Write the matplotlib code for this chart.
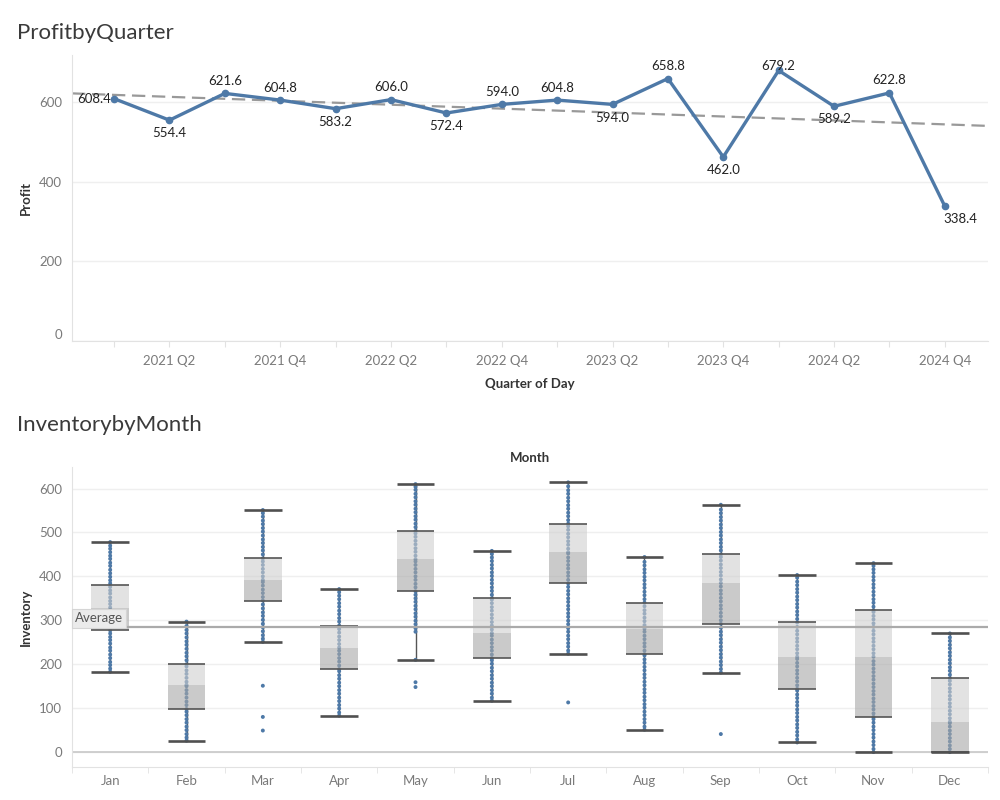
import matplotlib
matplotlib.use("Agg")
import matplotlib.pyplot as plt
import numpy as np

plt.rcParams['font.family'] = ['Lato', 'DejaVu Sans']

# ---------------- data ----------------
quarters = ["2021 Q1", "2021 Q2", "2021 Q3", "2021 Q4",
            "2022 Q1", "2022 Q2", "2022 Q3", "2022 Q4",
            "2023 Q1", "2023 Q2", "2023 Q3", "2023 Q4",
            "2024 Q1", "2024 Q2", "2024 Q3", "2024 Q4"]
profit = [608.4, 554.4, 621.6, 604.8, 583.2, 606.0, 572.4, 594.0,
          604.8, 594.0, 658.8, 462.0, 679.2, 589.2, 622.8, 338.4]

months = ["Jan", "Feb", "Mar", "Apr", "May", "Jun",
          "Jul", "Aug", "Sep", "Oct", "Nov", "Dec"]
whisk_lo = [183, 26, 251, 83, 210, 117, 224, 51, 181, 22, 0, 0]
q1 = [277, 98, 345, 189, 366, 214, 384, 223, 292, 144, 80, 0]
median = [328, 153, 392, 238, 439, 271, 455, 281, 385, 217, 217, 69]
q3 = [380, 200, 441, 288, 503, 350, 520, 340, 450, 295, 323, 168]
whisk_hi = [478, 297, 551, 371, 610, 458, 614, 444, 563, 403, 430, 270]
avg_inventory = 285

inv_jan = [183, 190, 198, 205, 214, 222, 231, 238, 247, 255, 262, 270, 277, 283,
           291, 298, 306, 313, 322, 329, 337, 344, 352, 361, 368, 376, 384, 391,
           399, 407, 415, 424, 431, 440, 447, 455, 463, 470, 478]
inv_feb = [26, 33, 41, 50, 58, 67, 75, 84, 92, 98, 107, 115, 124, 133, 141, 150,
           153, 160, 169, 178, 186, 195, 200, 209, 218, 226, 235, 244, 252, 261,
           270, 278, 287, 297]
inv_mar = [49, 80, 151, 251, 258, 266, 275, 284, 292, 301, 310, 318, 327, 336,
           345, 353, 362, 370, 379, 387, 392, 400, 409, 417, 426, 434, 441, 450,
           459, 467, 476, 484, 493, 502, 510, 519, 527, 536, 544, 551]
inv_apr = [83, 90, 99, 107, 116, 124, 133, 141, 150, 158, 167, 175, 184, 189,
           197, 206, 214, 223, 231, 238, 246, 255, 263, 272, 280, 288, 297, 305,
           314, 322, 331, 339, 348, 356, 364, 371]
inv_may = [148, 159, 210, 274, 282, 291, 299, 308, 316, 325, 333, 342, 350, 358,
           366, 375, 383, 392, 400, 409, 417, 426, 434, 439, 447, 456, 464, 473,
           481, 490, 498, 503, 512, 520, 529, 537, 546, 554, 563, 571, 580, 588,
           597, 604, 610]
inv_jun = [117, 124, 133, 141, 150, 158, 167, 175, 184, 192, 201, 209, 214, 222,
           231, 239, 248, 256, 265, 271, 279, 288, 296, 305, 313, 322, 330, 339,
           347, 350, 358, 367, 375, 384, 392, 401, 409, 418, 426, 435, 443, 451,
           458]
inv_jul = [113, 224, 231, 240, 248, 257, 265, 274, 282, 291, 299, 308, 316, 325,
           333, 342, 350, 359, 367, 376, 384, 392, 401, 409, 418, 426, 435, 443,
           452, 455, 463, 472, 480, 489, 497, 506, 514, 520, 528, 537, 545, 554,
           562, 571, 579, 588, 596, 605, 614]
inv_aug = [51, 58, 67, 75, 84, 92, 101, 109, 118, 126, 135, 143, 152, 160, 169,
           177, 186, 194, 203, 211, 220, 223, 231, 240, 248, 257, 265, 274, 281,
           289, 298, 306, 315, 323, 332, 340, 348, 357, 365, 374, 382, 391, 399,
           408, 416, 425, 433, 444]
inv_sep = [41, 181, 189, 198, 206, 215, 223, 232, 240, 249, 257, 266, 274, 283,
           292, 300, 309, 317, 326, 334, 343, 351, 360, 368, 377, 385, 393, 402,
           410, 419, 427, 436, 444, 450, 459, 467, 476, 484, 493, 501, 510, 518,
           527, 535, 544, 552, 563]
inv_oct = [22, 29, 38, 46, 55, 63, 72, 80, 89, 97, 106, 114, 123, 131, 140, 144,
           152, 161, 169, 178, 186, 195, 203, 212, 217, 225, 234, 242, 251, 259,
           268, 276, 285, 295, 303, 312, 320, 329, 337, 346, 354, 363, 371, 380,
           388, 397, 403]
inv_nov = [0, 7, 16, 24, 33, 41, 50, 58, 67, 75, 80, 88, 97, 105, 114, 122, 131,
           139, 148, 156, 165, 173, 182, 190, 199, 207, 217, 225, 234, 242, 251,
           259, 268, 276, 285, 293, 302, 310, 319, 323, 331, 340, 348, 357, 365,
           374, 382, 391, 399, 408, 416, 424, 430]
inv_dec = [0, 7, 15, 24, 32, 41, 49, 58, 66, 69, 77, 86, 94, 103, 111, 120, 128,
           137, 145, 154, 162, 168, 176, 185, 193, 202, 210, 219, 227, 236, 244,
           253, 261, 270]
inventory = [inv_jan, inv_feb, inv_mar, inv_apr, inv_may, inv_jun,
             inv_jul, inv_aug, inv_sep, inv_oct, inv_nov, inv_dec]

# ---------------- style ----------------
BLUE = "#4e79a7"
TXT = "#333333"
TICK = "#7a7a7a"
GRID = "#efefef"
AXL = "#e2e2e2"

fig = plt.figure(figsize=(10, 8), dpi=100)

# ================= top chart =================
ax1 = fig.add_axes([0.072, 0.57375, 0.916, 0.3575])
x = np.arange(len(profit))
ax1.set_xlim(-0.76, 15.78)
ax1.set_ylim(0, 718)

ax1.plot(x, profit, color=BLUE, lw=2.4, marker='o', ms=4.5, zorder=3,
         solid_joinstyle='round')

# trend line
coef = np.polyfit(x, profit, 1)
xt = np.array(ax1.get_xlim())
ax1.plot(xt, np.polyval(coef, xt), color="#999999", lw=1.6,
         ls=(0, (6, 3)), zorder=2)

# data labels
label_pos = ["left", "below", "above", "above", "below", "above", "below", "above",
             "above", "below", "above", "below", "top", "below", "above", "belowright"]
for xi, yi, pos in zip(x, profit, label_pos):
    if pos == "above":
        kw = dict(xytext=(0, 9), ha='center', va='center')
    elif pos == "below":
        kw = dict(xytext=(0, -9.5), ha='center', va='center')
    elif pos == "left":
        kw = dict(xytext=(-2, 0), ha='right', va='center')
    elif pos == "top":
        kw = dict(xytext=(0, 3), ha='center', va='center')
    else:
        kw = dict(xytext=(-1, -9.5), ha='left', va='center')
    ax1.annotate(f"{yi:.1f}", (xi, yi), textcoords='offset points',
                 fontsize=9.5, color="#222222", zorder=4, **kw)

ax1.set_yticks([0, 200, 400, 600])
ax1.set_xticks(x)
ax1.set_xticklabels([q if i % 2 == 1 else "" for i, q in enumerate(quarters)])
ax1.grid(axis='y', color=GRID, lw=1)
ax1.set_axisbelow(True)
for s in ['top', 'right']:
    ax1.spines[s].set_visible(False)
ax1.spines['left'].set_color(AXL)
ax1.spines['bottom'].set_color(AXL)
ax1.tick_params(axis='y', length=0, pad=7, labelsize=9.5, labelcolor=TICK)
ax1.tick_params(axis='x', length=4, color=AXL, pad=6, labelsize=9.5, labelcolor=TICK)
for lab in ax1.get_yticklabels():
    if lab.get_text() == "0":
        lab.set_va('bottom')
ax1.set_ylabel("Profit", fontsize=9.5, color=TXT, fontweight='bold', labelpad=5)
ax1.set_xlabel("Quarter of Day", fontsize=9.5, color=TXT, fontweight='bold', labelpad=8)
fig.text(0.017, 0.959, "ProfitbyQuarter", fontsize=16, color="#3a3a3a", va='center',
         ha='left', fontweight='normal')

# ================= bottom chart =================
ax2 = fig.add_axes([0.072, 0.04125, 0.916, 0.375])
xm = np.arange(len(months))
ax2.set_xlim(-0.5, 11.5)
ax2.set_ylim(-34, 649)

# dots
for xi, vals in zip(xm, inventory):
    ax2.scatter(np.full(len(vals), xi), vals, s=8, color=BLUE, edgecolor='none',
                zorder=2)

bw = 0.49
lo = np.array(q1); me = np.array(median); hi = np.array(q3)
ax2.bar(xm, me - lo, bottom=lo, width=bw, color="#a8a8a8", alpha=0.6,
        edgecolor='none', zorder=3)
ax2.bar(xm, hi - me, bottom=me, width=bw, color="#cfcfcf", alpha=0.6,
        edgecolor='none', zorder=3)
ax2.hlines(q1, xm - bw / 2, xm + bw / 2, color="#555555", lw=1.2, zorder=4)
ax2.hlines(q3, xm - bw / 2, xm + bw / 2, color="#555555", lw=1.2, zorder=4)
ax2.vlines(xm, whisk_lo, q1, color="#555555", lw=1.0, zorder=1.5)
ax2.vlines(xm, q3, whisk_hi, color="#555555", lw=1.0, zorder=1.5)
ax2.hlines(whisk_lo, xm - bw / 2, xm + bw / 2, color="#505050", lw=1.9, zorder=4)
ax2.hlines(whisk_hi, xm - bw / 2, xm + bw / 2, color="#505050", lw=1.9, zorder=4)

# average reference line
ax2.axhline(avg_inventory, color="#aaaaaa", lw=1.6, zorder=5)
ax2.text(-0.46, avg_inventory + 6, "Average", fontsize=9.5, color="#555555",
         ha='left', va='bottom', zorder=6,
         bbox=dict(boxstyle='square,pad=0.25', fc="#ebebeb", ec="#d5d5d5", lw=0.8))

ax2.axhline(0, color="#c8c8c8", lw=1.2, zorder=1)
ax2.set_yticks([0, 100, 200, 300, 400, 500, 600])
ax2.set_xticks(xm)
ax2.set_xticklabels(months)
ax2.set_xticks(np.arange(-0.5, 12.0, 1.0), minor=True)
ax2.grid(axis='y', color=GRID, lw=1)
ax2.set_axisbelow(True)
for s in ['top', 'right']:
    ax2.spines[s].set_visible(False)
ax2.spines['left'].set_color(AXL)
ax2.spines['bottom'].set_color(AXL)
ax2.tick_params(axis='y', length=0, pad=7, labelsize=9.5, labelcolor=TICK)
ax2.tick_params(axis='x', which='major', length=0, pad=6, labelsize=9.5, labelcolor=TICK)
ax2.tick_params(axis='x', which='minor', length=4, color=AXL)
ax2.set_ylabel("Inventory", fontsize=9.5, color=TXT, fontweight='bold', labelpad=5)
ax2.text(0.5, 1.03, "Month", transform=ax2.transAxes, fontsize=9.5, color=TXT,
         fontweight='bold', ha='center', va='center')
fig.text(0.017, 0.469, "InventorybyMonth", fontsize=16, color="#3a3a3a", va='center',
         ha='left', fontweight='normal')

fig.savefig("out.png", dpi=100, facecolor='white')
